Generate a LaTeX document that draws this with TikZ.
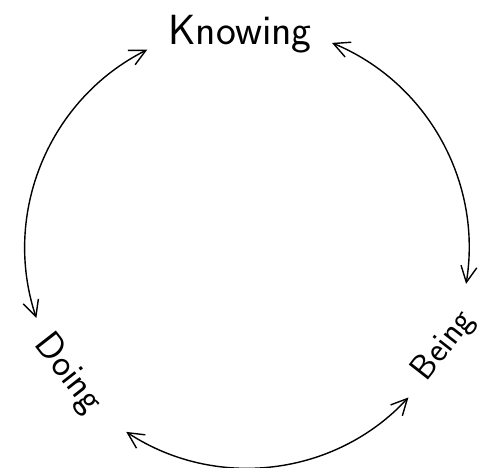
\documentclass[tikz,border=0pt]{standalone}
\usepackage{tikz}
\usetikzlibrary{arrows.meta,calc}

\begin{document}
\begin{tikzpicture}[>={Straight Barb[length=4mm,width=4mm]},line width=1pt]
  \useasboundingbox (0,0) rectangle (12.075,11.7);
  \coordinate (o) at (6.175,5.5);
  % labels
  \node[font=\fontsize{30}{34}\selectfont\sffamily] (know) at (6.0,10.85) {Knowing};
  \node[font=\fontsize{27}{30}\selectfont\sffamily,rotate=-52] (do) at (1.7,2.35) {Doing};
  \node[font=\fontsize{25}{28}\selectfont\sffamily,rotate=52] (be) at (11.1,3.05) {Being};
  % arcs
  \coordinate (kl) at ($(o)+(116.7:5.55)$);
  \coordinate (kr) at ($(o)+(67.5:5.55)$);
  \coordinate (bl) at ($(o)+(236.7:5.5)$);
  \draw[<->] (kl) arc[start angle=116.7,end angle=198.4,radius=5.55];
  \draw[<->] (kr) arc[start angle=67.5,end angle=-9.3,radius=5.55];
  \draw[<->] (bl) arc[start angle=236.7,end angle=317.2,radius=5.5];
\end{tikzpicture}
\end{document}
